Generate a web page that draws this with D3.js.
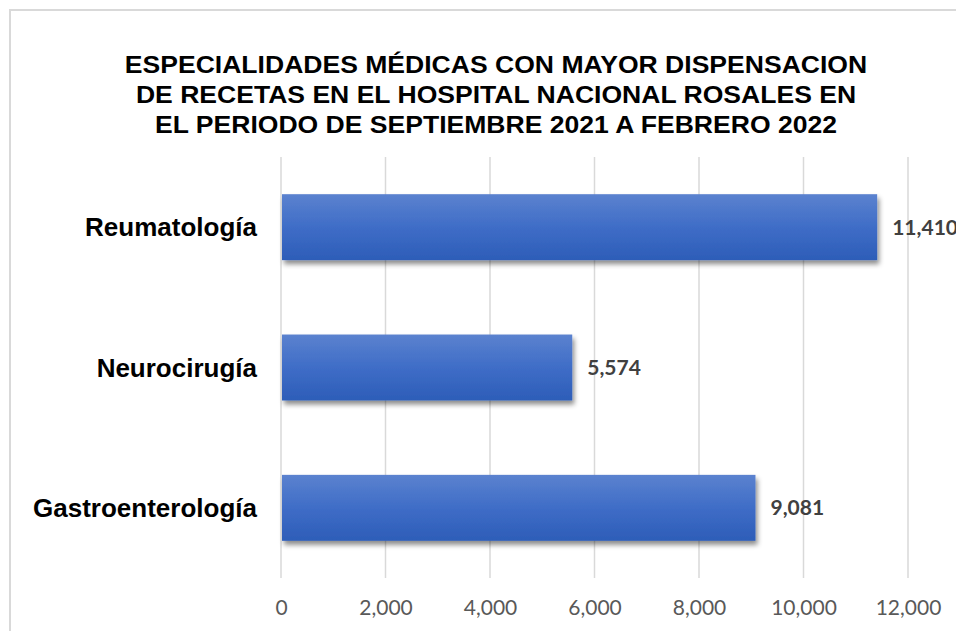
<!DOCTYPE html>
<html>
<head>
<meta charset="utf-8">
<script src="https://d3js.org/d3.v7.min.js"></script>
<style>
  body { margin: 0; background: #fff; }
  svg { display: block; }
</style>
</head>
<body>
<svg id="chart"></svg>
<script>
// datos
const categorias = ["Reumatología", "Neurocirugía", "Gastroenterología"];
const recetas = [11410, 5574, 9081];
const ticksX = [0, 2000, 4000, 6000, 8000, 10000, 12000];
const tituloLineas = [
  "ESPECIALIDADES MÉDICAS CON MAYOR DISPENSACION",
  "DE RECETAS EN EL HOSPITAL NACIONAL ROSALES EN",
  "EL PERIODO DE SEPTIEMBRE 2021 A FEBRERO 2022"
];

const width = 956;
const height = 631;

const svg = d3.select("#chart")
  .attr("width", width)
  .attr("height", height);

// borde del area del grafico
svg.append("rect")
  .attr("x", 10).attr("y", 10)
  .attr("width", width + 20).attr("height", height + 20)
  .attr("fill", "#fff")
  .attr("stroke", "#d9d9d9")
  .attr("stroke-width", 2);

const defs = svg.append("defs");
const grad = defs.append("linearGradient")
  .attr("id", "barGrad")
  .attr("x1", 0).attr("y1", 0).attr("x2", 0).attr("y2", 1);
grad.append("stop").attr("offset", "0%").attr("stop-color", "#5b82cf");
grad.append("stop").attr("offset", "50%").attr("stop-color", "#3f6dc7");
grad.append("stop").attr("offset", "100%").attr("stop-color", "#2d5db8");

const sombra = defs.append("filter")
  .attr("id", "sombra")
  .attr("x", "-5%").attr("y", "-20%")
  .attr("width", "115%").attr("height", "160%");
sombra.append("feDropShadow")
  .attr("dx", 2).attr("dy", 4)
  .attr("stdDeviation", 2.5)
  .attr("flood-color", "#000")
  .attr("flood-opacity", 0.45);

// titulo (letra algo estirada a lo ancho, como en el original)
svg.append("g")
  .attr("transform", "translate(496, 0) scale(1.13, 1)")
  .selectAll("text")
  .data(tituloLineas)
  .enter()
  .append("text")
  .attr("x", 0)
  .attr("y", (d, i) => 73 + i * 30)
  .attr("text-anchor", "middle")
  .style("font-family", "'Liberation Sans', Arial, sans-serif")
  .style("font-weight", "bold")
  .style("font-size", "23.5px")
  .style("fill", "#000")
  .text(d => d);

const plotTop = 157;
const plotBottom = 578;

const scaleX = d3.scaleLinear()
  .domain([0, 12000])
  .range([281, 908]);

const scaleY = d3.scaleBand()
  .domain(categorias)
  .range([plotTop, plotBottom])
  .paddingInner(0.53)
  .paddingOuter(0.265);

// lineas de cuadricula
svg.append("g")
  .selectAll("line")
  .data(ticksX)
  .enter()
  .append("line")
  .attr("x1", d => scaleX(d))
  .attr("x2", d => scaleX(d))
  .attr("y1", plotTop)
  .attr("y2", plotBottom)
  .attr("stroke", "#d9d9d9")
  .attr("stroke-width", 1.5);

// eje X
const axisX = d3.axisBottom(scaleX)
  .tickValues(ticksX)
  .tickFormat(d3.format(","))
  .tickSize(0)
  .tickPadding(0);

const gx = svg.append("g")
  .attr("transform", `translate(0, ${plotBottom + 37})`)
  .call(axisX);
gx.select(".domain").remove();
gx.selectAll("text")
  .attr("dy", 0)
  .style("font-family", "Lato, 'Open Sans', sans-serif")
  .style("font-size", "21px")
  .style("fill", "#595959");

// eje Y (categorias)
const axisY = d3.axisLeft(scaleY)
  .tickSize(0)
  .tickPadding(24);

const gy = svg.append("g")
  .attr("transform", `translate(281, 0)`)
  .call(axisY);
gy.select(".domain").remove();
gy.selectAll("text")
  .attr("dy", "0.35em")
  .style("font-family", "'Liberation Sans', Arial, sans-serif")
  .style("font-weight", "bold")
  .style("font-size", "26px")
  .style("fill", "#000");

const datos = categorias.map((c, i) => ({ cat: c, val: recetas[i] }));

// barras
svg.append("g")
  .selectAll("rect")
  .data(datos)
  .enter()
  .append("rect")
  .attr("x", scaleX(0) + 1)
  .attr("y", d => scaleY(d.cat))
  .attr("width", d => scaleX(d.val) - scaleX(0) - 1)
  .attr("height", scaleY.bandwidth())
  .attr("fill", "url(#barGrad)")
  .attr("filter", "url(#sombra)");

// etiquetas de datos
svg.append("g")
  .selectAll("text")
  .data(datos)
  .enter()
  .append("text")
  .attr("x", d => scaleX(d.val) + 15)
  .attr("y", d => scaleY(d.cat) + scaleY.bandwidth() / 2)
  .attr("dy", "0.35em")
  .style("font-family", "Lato, 'Open Sans', sans-serif")
  .style("font-weight", "bold")
  .style("font-size", "21px")
  .style("fill", "#404040")
  .text(d => d3.format(",")(d.val));
</script>
</body>
</html>
